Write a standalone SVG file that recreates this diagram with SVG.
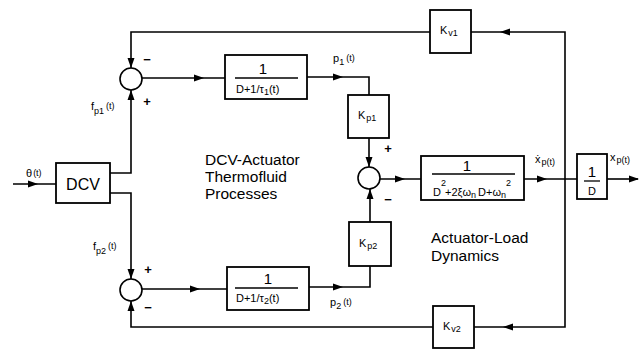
<svg xmlns="http://www.w3.org/2000/svg" xmlns:xlink="http://www.w3.org/1999/xlink" width="641" height="350" viewBox="0 0 641 350">
<style>
.b{fill:#fff;stroke:#000;stroke-width:1.8}
.c{fill:#fff;stroke:#000;stroke-width:1.6}
.w{fill:none;stroke:#000;stroke-width:1.6}
.fr{stroke:#000;stroke-width:1.3}
text{font-family:"Liberation Sans","DejaVu Sans",Arial,sans-serif;fill:#000}
.big{font-size:16px}
.lab{font-size:15.5px}
.s{font-size:11px}
.ss{font-size:9px}
.num{font-size:15px}
.sg{font-size:13px;font-weight:bold}
</style>
<defs>
<path id="ah" d="M0,0 L-10,-3.5 L-10,3.5 Z" fill="#000"/>
</defs>
<rect width="641" height="350" fill="#fff"/>

<g id="connectors">
<path class="w" d="M13,184 H56"/>
<path class="w" d="M110,173 H131 V90"/>
<path class="w" d="M110,193 H131 V279"/>
<path class="w" d="M430,32 H131 V68"/>
<path class="w" d="M433,327 H131 V301"/>
<path class="w" d="M142,78 H225"/>
<path class="w" d="M142,289 H227"/>
<path class="w" d="M307,77 H369 V95"/>
<path class="w" d="M369,138 V167"/>
<path class="w" d="M309,287 H370 V266"/>
<path class="w" d="M370,222 V189"/>
<path class="w" d="M380,179 H421"/>
<path class="w" d="M524,179 H577"/>
<path class="w" d="M607,179 H638"/>
<path class="w" d="M471,32 H565 V327 H474"/>
<use xlink:href="#ah" transform="translate(38,184)"/>
<use xlink:href="#ah" transform="translate(131,90) rotate(-90)"/>
<use xlink:href="#ah" transform="translate(131,68) rotate(90)"/>
<use xlink:href="#ah" transform="translate(204,78)"/>
<use xlink:href="#ah" transform="translate(343,77)"/>
<use xlink:href="#ah" transform="translate(369,167) rotate(90)"/>
<use xlink:href="#ah" transform="translate(370,189) rotate(-90)"/>
<use xlink:href="#ah" transform="translate(343,287)"/>
<use xlink:href="#ah" transform="translate(405,179)"/>
<use xlink:href="#ah" transform="translate(547,179)"/>
<use xlink:href="#ah" transform="translate(639,179)"/>
<use xlink:href="#ah" transform="translate(500,32) rotate(180)"/>
<use xlink:href="#ah" transform="translate(503,327) rotate(180)"/>
<use xlink:href="#ah" transform="translate(131,301) rotate(-90)"/>
<use xlink:href="#ah" transform="translate(131,279) rotate(90)"/>
<use xlink:href="#ah" transform="translate(200,289)"/>
</g>

<g id="theta-label">
<text x="26" y="177" class="s">θ<tspan class="ss" dx="1" dy="-1">(t)</tspan></text>
</g>

<g id="dcv">
<rect class="b" x="56" y="163" width="54" height="40"/>
<text x="83" y="190" class="big" text-anchor="middle">DCV</text>
</g>

<g id="fp1-label">
<text x="91" y="110" class="s">f<tspan class="ss" dy="4">p1</tspan><tspan class="ss" dx="2" dy="-5">(t)</tspan></text>
</g>
<g id="fp2-label">
<text x="93" y="250" class="s">f<tspan class="ss" dy="4">p2</tspan><tspan class="ss" dx="2" dy="-5">(t)</tspan></text>
</g>

<g id="sum1">
<circle class="c" cx="131" cy="79" r="11"/>
<text x="147" y="64" class="sg" text-anchor="middle">−</text>
<text x="147" y="106" class="sg" text-anchor="middle">+</text>
</g>

<g id="sum2">
<circle class="c" cx="131" cy="290" r="11"/>
<text x="148" y="274" class="sg" text-anchor="middle">+</text>
<text x="148" y="312" class="sg" text-anchor="middle">−</text>
</g>

<g id="lag1">
<rect class="b" x="225" y="55" width="82" height="44"/>
<text x="263" y="74" class="num" text-anchor="middle">1</text>
<line class="fr" x1="235" y1="78" x2="298" y2="78"/>
<text x="236" y="93" class="s">D+1/τ<tspan class="ss" dy="2">1</tspan><tspan dy="-2">(t)</tspan></text>
</g>

<g id="lag2">
<rect class="b" x="227" y="267" width="82" height="43"/>
<text x="268" y="284" class="num" text-anchor="middle">1</text>
<line class="fr" x1="235" y1="288" x2="298" y2="288"/>
<text x="236" y="302" class="s">D+1/τ<tspan class="ss" dy="2">2</tspan><tspan dy="-2">(t)</tspan></text>
</g>

<g id="p1-label">
<text x="333" y="62" class="s">p<tspan class="ss" dy="3">1</tspan><tspan class="ss" dx="2" dy="-4">(t)</tspan></text>
</g>
<g id="p2-label">
<text x="330" y="306" class="s">p<tspan class="ss" dy="3">2</tspan><tspan class="ss" dx="2" dy="-4">(t)</tspan></text>
</g>

<g id="kp1">
<rect class="b" x="348" y="95" width="41" height="43"/>
<text x="358" y="119" class="s">K<tspan class="ss" dx="1" dy="2">p1</tspan></text>
</g>

<g id="kp2">
<rect class="b" x="349" y="222" width="42" height="44"/>
<text x="359" y="247" class="s">K<tspan class="ss" dx="1" dy="2">p2</tspan></text>
</g>

<g id="sum3">
<circle class="c" cx="369" cy="178" r="11"/>
<text x="388" y="153" class="sg" text-anchor="middle">+</text>
<text x="388" y="204" class="sg" text-anchor="middle">−</text>
</g>

<g id="kv1">
<rect class="b" x="430" y="10" width="41" height="43"/>
<text x="440" y="34" class="s">K<tspan class="ss" dx="1" dy="2">v1</tspan></text>
</g>

<g id="kv2">
<rect class="b" x="433" y="306" width="41" height="42"/>
<text x="443" y="330" class="s">K<tspan class="ss" dx="1" dy="2">v2</tspan></text>
</g>

<g id="load">
<rect class="b" x="421" y="156" width="103" height="44"/>
<text x="467" y="171" class="num" text-anchor="middle">1</text>
<line class="fr" x1="432" y1="174" x2="515" y2="174"/>
<text x="433" y="196" class="s">D<tspan class="ss" dy="-10">2</tspan><tspan dx="-1" dy="10">+2ξω</tspan><tspan class="ss" dy="2">n</tspan><tspan dx="2" dy="-2">D+ω</tspan><tspan class="ss" dy="2">n</tspan><tspan class="ss" dy="-12">2</tspan></text>
</g>

<g id="xdot-label">
<text x="535" y="163" class="s">ẋ<tspan class="ss" dx="1" dy="2">p(t)</tspan></text>
</g>

<g id="integrator">
<rect class="b" x="577" y="154" width="30" height="45"/>
<text x="592" y="177" class="num" text-anchor="middle">1</text>
<line class="fr" x1="584" y1="181" x2="600" y2="181"/>
<text x="592" y="195" class="s" text-anchor="middle">D</text>
</g>

<g id="xp-label">
<text x="610" y="161" class="s">x<tspan class="ss" dx="1" dy="2">p(t)</tspan></text>
</g>

<g id="region-labels">
<text x="205" y="165" class="lab">DCV-Actuator</text>
<text x="205" y="182" class="lab">Thermofluid</text>
<text x="205" y="199" class="lab">Processes</text>
<text x="431" y="243" class="lab">Actuator-Load</text>
<text x="431" y="261" class="lab">Dynamics</text>
</g>
</svg>
